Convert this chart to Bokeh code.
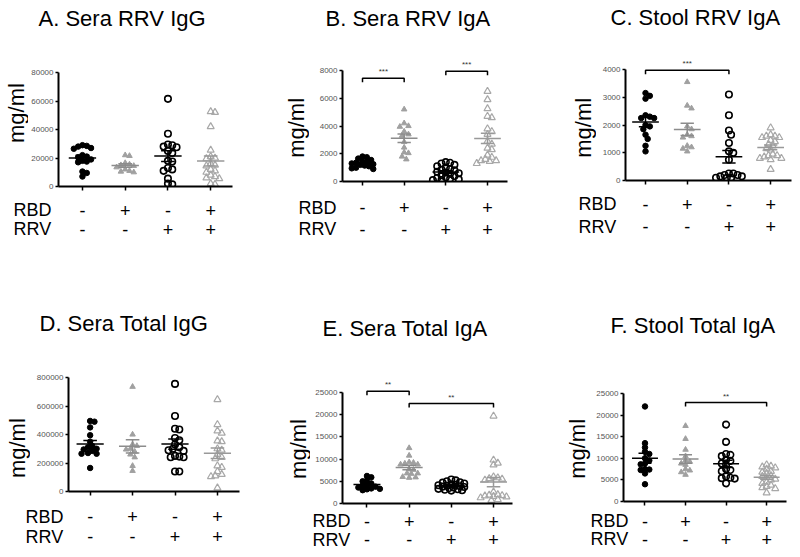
import math
import numpy as np
from bokeh.plotting import figure
from bokeh.layouts import row, column
from bokeh.models import Range1d, FixedTicker, BasicTickFormatter, ColumnDataSource
from bokeh.core.properties import value
from bokeh.embed import file_html
from bokeh.resources import INLINE

# ---------------- data ----------------
categories = [1, 2, 3, 4]
rbd_signs = ["-", "+", "-", "+"]
rrv_signs = ["-", "-", "+", "+"]

titles = ["A.  Sera RRV IgG", "B. Sera RRV IgA", "C. Stool RRV IgA",
          "D.  Sera Total IgG", "E.   Sera Total IgA", "F. Stool Total IgA"]

# A. Sera RRV IgG
a_ctrl = [29000, 28500, 28000, 27000, 26500, 22000, 21000, 20500, 19000, 18000, 17500, 17000, 10500, 9500, 7000]
a_rbd = [22000, 21500, 16500, 15500, 15000, 14500, 13500, 12000, 11000, 10500, 10000]
a_rrv = [61500, 37000, 29500, 29000, 28000, 27500, 25000, 23500, 18000, 17500, 13000, 12000, 11000, 5500, 2000, 1500]
a_both = [52500, 52000, 42000, 25500, 21000, 20000, 19500, 16000, 15000, 14500, 12000, 11000, 10000, 8000, 7000, 6000, 5500, 2000, 1500]
a_yticks = [0, 20000, 40000, 60000, 80000]

# B. Sera RRV IgA
b_ctrl = [1800, 1750, 1650, 1550, 1450, 1400, 1350, 1300, 1250, 1200, 1150, 1100, 1000, 950, 900]
b_rbd = [5200, 4200, 4000, 3950, 3600, 3400, 3300, 2850, 2450, 2100, 2050, 1800, 1600]
b_rrv = [1400, 1350, 1300, 1200, 1100, 1000, 900, 850, 800, 700, 650, 600, 550, 450, 400, 300, 250, 200, 150, 100, 100]
b_both = [6500, 5900, 5250, 4700, 4600, 3800, 3600, 3400, 2900, 2700, 2400, 2300, 1900, 1750, 1600, 1500, 1500, 1450, 1300]
b_yticks = [0, 2000, 4000, 6000, 8000]
b_sig_pairs = [(1, 2), (3, 4)]
b_sig_levels = [7450, 7950]
b_sig_labels = ["***", "***"]

# C. Stool RRV IgA
c_ctrl = [3150, 3050, 2950, 2350, 2300, 2250, 2250, 2000, 1950, 1850, 1650, 1500, 1250, 1050]
c_rbd = [3550, 2700, 2600, 1950, 1850, 1650, 1600, 1550, 1250, 1200, 1150, 1050]
c_rrv = [3100, 2350, 1800, 1650, 1350, 1050, 1000, 750, 250, 250, 200, 200, 150, 150, 100, 100, 100]
c_both = [1900, 1650, 1600, 1600, 1550, 1550, 1450, 1400, 1300, 1250, 1150, 1100, 950, 900, 900, 850, 800, 800, 750, 400]
c_yticks = [0, 1000, 2000, 3000, 4000]
c_sig_pairs = [(1, 3)]
c_sig_levels = [3975]
c_sig_labels = ["***"]

# D. Sera Total IgG
d_ctrl = [495000, 490000, 450000, 395000, 350000, 320000, 310000, 300000, 295000, 285000, 270000, 265000, 265000, 165000]
d_rbd = [735000, 400000, 330000, 320000, 300000, 295000, 280000, 260000, 240000, 180000, 145000]
d_rrv = [755000, 530000, 440000, 435000, 375000, 360000, 330000, 310000, 300000, 290000, 285000, 250000, 245000, 240000, 240000, 140000, 140000]
d_both = [645000, 470000, 425000, 410000, 355000, 350000, 300000, 290000, 260000, 240000, 230000, 180000, 170000, 140000, 120000, 110000, 105000, 25000]
d_yticks = [0, 200000, 400000, 600000, 800000]

# E. Sera Total IgA
e_ctrl = [6200, 5900, 5200, 5000, 4500, 4200, 4000, 3800, 3600, 3400, 3300, 3200, 3000]
e_rbd = [12500, 10800, 9300, 9200, 9000, 8800, 8800, 7700, 7600, 6800, 6800, 6700, 6000, 5900, 5800]
e_rrv = [5400, 5200, 5000, 4800, 4700, 4500, 4300, 4200, 4100, 4000, 3900, 3800, 3700, 3600, 3500, 3300, 3200, 3100, 3000, 2900]
e_both = [19700, 9800, 9100, 8700, 6000, 5800, 5600, 5500, 5300, 2600, 2000, 1900, 1800, 1700, 1600, 1500, 1300, 900, 700]
e_yticks = [0, 5000, 10000, 15000, 20000, 25000]
e_sig_pairs = [(1, 2), (2, 4)]
e_sig_levels = [25300, 22500]
e_sig_labels = ["**", "**"]

# F. Stool Total IgA
f_ctrl = [22000, 13500, 12500, 11500, 11000, 10000, 9500, 8800, 8600, 7500, 7400, 7300, 6500, 4000]
f_rbd = [17500, 14500, 12000, 10500, 9500, 9200, 8800, 8500, 7500, 7200, 6800, 6200]
f_rrv = [17800, 13800, 11000, 10800, 10500, 9600, 9400, 8800, 8500, 7500, 7300, 7000, 5800, 5500, 5400, 5300, 4200]
f_both = [8500, 8200, 8000, 7800, 7500, 7000, 6800, 6500, 6000, 5800, 5500, 5200, 5000, 4500, 4200, 3800, 3500, 3200, 3000, 2000]
f_yticks = [0, 5000, 10000, 15000, 20000, 25000]
f_sig_pairs = [(2, 4)]
f_sig_levels = [22900]
f_sig_labels = ["**"]

# ---------------- layout / style ----------------
FONT = "Liberation Sans"
EXT_TOP = 16      # extra frame space above the axis top (for brackets)
BB = 8            # bottom border of the main plot (x-axis ticks)

# fig = panel rect (x, y, w, h); frame = axis box (L, T, R, B); wl = width of the y-label strip
panels = [
    dict(title=titles[0], groups=[a_ctrl, a_rbd, a_rrv, a_both], yticks=a_yticks, sig=None,
         fig=(0, 0, 273, 278), frame=(58, 72, 232, 186), xr=(0.44, 4.51), wl=28,
         title_pos=(38, 18), ylab=(16, 116), rbd=(13, 209.5), rrv=(13, 228.5)),
    dict(title=titles[1], groups=[b_ctrl, b_rbd, b_rrv, b_both], yticks=b_yticks,
         sig=(b_sig_pairs, b_sig_levels, b_sig_labels),
         fig=(273, 0, 265, 278), frame=(342, 70, 507, 181), xr=(0.52, 4.48), wl=36,
         title_pos=(325, 18), ylab=(296, 132), rbd=(298, 207), rrv=(298, 228.5)),
    dict(title=titles[2], groups=[c_ctrl, c_rbd, c_rrv, c_both], yticks=c_yticks,
         sig=(c_sig_pairs, c_sig_levels, c_sig_labels),
         fig=(538, 0, 262, 278), frame=(625, 69, 791, 180), xr=(0.52, 4.5), wl=58,
         title_pos=(610, 17), ylab=(583, 132), rbd=(578, 203.5), rrv=(578, 226)),
    dict(title=titles[3], groups=[d_ctrl, d_rbd, d_rrv, d_both], yticks=d_yticks, sig=None,
         fig=(0, 278, 273, 279), frame=(68, 377, 239, 491), xr=(0.49, 4.52), wl=30,
         title_pos=(39, 323), ylab=(17, 453), rbd=(25, 516), rrv=(25, 536)),
    dict(title=titles[4], groups=[e_ctrl, e_rbd, e_rrv, e_both], yticks=e_yticks,
         sig=(e_sig_pairs, e_sig_levels, e_sig_labels),
         fig=(273, 278, 265, 279), frame=(342, 392, 512, 503), xr=(0.42, 4.45), wl=37,
         title_pos=(322, 328), ylab=(298, 453), rbd=(312, 520.5), rrv=(312, 539)),
    dict(title=titles[5], groups=[f_ctrl, f_rbd, f_rrv, f_both], yticks=f_yticks,
         sig=(f_sig_pairs, f_sig_levels, f_sig_labels),
         fig=(538, 278, 262, 279), frame=(623, 393, 786, 501), xr=(0.47, 4.49), wl=55,
         title_pos=(610, 325), ylab=(577, 453), rbd=(590, 520.5), rrv=(590, 538.5)),
]

group_styles = [
    dict(marker="circle", size=5.5, fill_color="black", line_color="black", line_width=1, mean_color="black"),
    dict(marker="triangle", size=5.5, fill_color="#a0a0a0", line_color="#a0a0a0", line_width=1, mean_color="#8c8c8c"),
    dict(marker="circle", size=6.5, fill_color=None, line_color="black", line_width=1.6, mean_color="black"),
    dict(marker="triangle", size=7, fill_color=None, line_color="#a8a8a8", line_width=1.2, mean_color="#999999"),
]


def swarm(vals, px_per_x, px_per_y, d=4.3, cap_px=14.0):
    """Deterministic beeswarm: horizontal offsets (data units) that limit marker overlap."""
    vals = np.asarray(vals, dtype=float)
    order = np.argsort(-vals, kind="stable")
    step = d / 2.0
    cands = [0.0]
    m = 1
    while m * step <= cap_px:
        cands += [m * step, -m * step]
        m += 1
    placed = []
    res = np.zeros(len(vals))
    for i in order:
        y = vals[i] * px_per_y
        best, best_d = 0.0, -1.0
        for c in cands:
            md = min([math.hypot(c - a, y - b) for a, b in placed] or [1e9])
            if md >= d:
                best = c
                break
            if md > best_d:
                best, best_d = c, md
        placed.append((best, y))
        res[i] = best / px_per_x
    return res


def blank_fig(w, h, xr, yr):
    f = figure(width=w, height=h, x_range=Range1d(*xr), y_range=Range1d(*yr),
               x_axis_type=None, y_axis_type=None, output_backend="svg",
               toolbar_location=None, min_border=0)
    f.outline_line_color = None
    f.xgrid.visible = False
    f.ygrid.visible = False
    f.background_fill_color = "white"
    f.border_fill_color = "white"
    return f


def add_text(f, xs, ys, texts, size, align="center", angle=0.0, color="black"):
    src = ColumnDataSource(dict(x=xs, y=ys, t=texts))
    f.text(x="x", y="y", text="t", source=src, text_font=value(FONT), text_font_size=value(size),
           text_align=align, text_baseline="middle", angle=angle, text_color=color)


panel_layouts = []
for pn in panels:
    fx, fy, fw, fh = pn["fig"]
    L, T, R, B = pn["frame"]
    x0, x1 = pn["xr"]
    ymax = pn["yticks"][-1]
    wl = pn["wl"]
    pxx = (R - L) / (x1 - x0)
    pxy = (B - T) / ymax
    top_main = T - EXT_TOP
    bot_main = B + BB

    def X(px):
        return x0 + (px - L) / pxx

    # ---- main plot ----
    p = figure(width=fw - wl, height=bot_main - top_main,
               x_range=Range1d(x0, x1), y_range=Range1d(0, ymax + EXT_TOP / pxy),
               output_backend="svg", toolbar_location=None,
               min_border_left=L - (fx + wl), min_border_right=fx + fw - R,
               min_border_top=0, min_border_bottom=BB)
    p.outline_line_color = None
    p.xgrid.visible = False
    p.ygrid.visible = False
    p.background_fill_color = "white"
    p.border_fill_color = "white"

    p.yaxis.ticker = FixedTicker(ticks=pn["yticks"])
    p.yaxis.bounds = (0, ymax)
    p.yaxis.formatter = BasicTickFormatter(use_scientific=False)
    p.yaxis.major_label_text_font = FONT
    p.yaxis.major_label_text_font_size = "8px"
    p.yaxis.major_label_text_color = "#555555"
    p.yaxis.major_label_standoff = 2
    p.yaxis.major_tick_out = 3
    p.yaxis.major_tick_in = 0
    p.yaxis.minor_tick_line_color = None
    p.xaxis.ticker = FixedTicker(ticks=categories)
    p.xaxis.major_label_overrides = {c: "" for c in categories}
    p.xaxis.major_label_standoff = 0
    p.xaxis.major_tick_out = 4
    p.xaxis.major_tick_in = 0
    p.xaxis.minor_tick_line_color = None
    for ax in (p.xaxis, p.yaxis):
        ax.axis_line_width = 2
        ax.axis_line_color = "black"
        ax.major_tick_line_width = 1.5
        ax.major_tick_line_color = "black"

    for cat, vals, st in zip(categories, pn["groups"], group_styles):
        v = np.asarray(vals, dtype=float)
        offs = swarm(v, pxx, pxy)
        p.scatter(cat + offs, v, marker=st["marker"], size=st["size"],
                  fill_color=st["fill_color"], line_color=st["line_color"],
                  line_width=st["line_width"])
        m = v.mean()
        sem = v.std(ddof=1) / math.sqrt(len(v))
        p.segment(x0=[cat - 0.32, cat - 0.16, cat - 0.16, cat],
                  x1=[cat + 0.32, cat + 0.16, cat + 0.16, cat],
                  y0=[m, m - sem, m + sem, m - sem],
                  y1=[m, m - sem, m + sem, m + sem],
                  line_color=st["mean_color"], line_width=1.5)

    if pn["sig"] is not None:
        pairs, levels, labs = pn["sig"]
        tick = 4 / pxy
        for (c1, c2), lv, lab in zip(pairs, levels, labs):
            p.line([c1, c1, c2, c2], [lv - tick, lv, lv, lv - tick], line_color="black", line_width=1.5)
        src = ColumnDataSource(dict(x=[(a + b) / 2 for a, b in pairs],
                                    y=[lv + 2 / pxy for lv in levels], t=list(labs)))
        p.text(x="x", y="y", text="t", source=src, text_font=value(FONT), text_font_size=value("8px"),
               text_align="center", text_baseline="bottom", text_color="#333333")

    # ---- title strip (page-pixel coordinates) ----
    tf = blank_fig(fw, top_main - fy, (fx, fx + fw), (top_main, fy))
    tx, ty = pn["title_pos"]
    add_text(tf, [tx], [ty], [pn["title"]], "22px", align="left")

    # ---- y-label strip ----
    lf = blank_fig(wl, bot_main - top_main, (fx, fx + wl), (bot_main, top_main))
    lx, ly = pn["ylab"]
    add_text(lf, [lx], [ly], ["mg/ml"], "22px", angle=math.pi / 2)

    # ---- group indicator strip (x aligned with the category scale) ----
    bf = blank_fig(fw, fy + fh - bot_main, (X(fx), X(fx + fw)), (fy + fh, bot_main))
    (rx, ry), (qx, qy) = pn["rbd"], pn["rrv"]
    add_text(bf, [X(rx), X(qx)], [ry, qy], ["RBD", "RRV"], "18px", align="left")
    add_text(bf, categories + categories, [ry] * 4 + [qy] * 4, rbd_signs + rrv_signs, "18px")

    panel_layouts.append(column(tf, row(lf, p), bf))

layout = column(row(*panel_layouts[:3]), row(*panel_layouts[3:]))
open("out.html", "w").write(file_html(layout, INLINE))
